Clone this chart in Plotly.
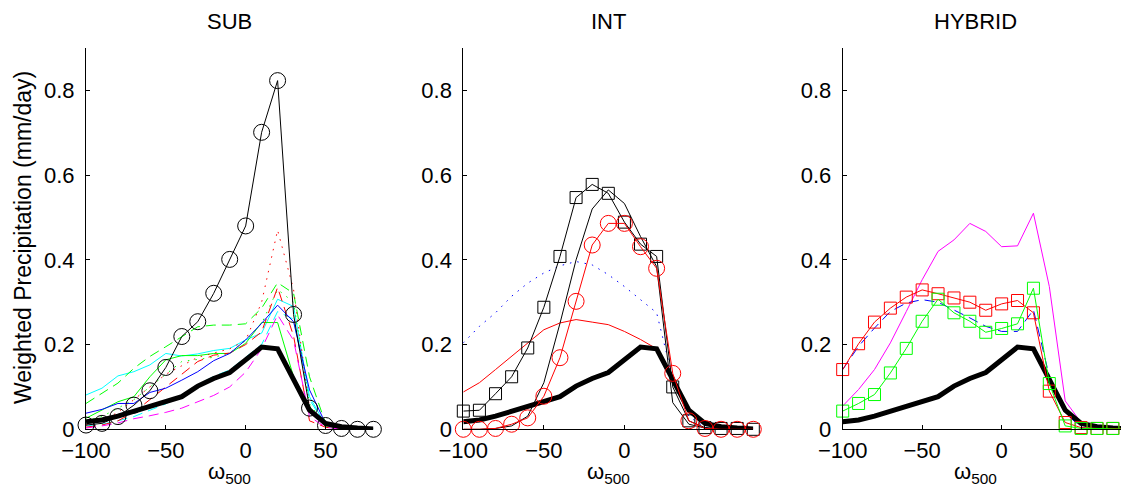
import plotly.graph_objects as go

# omega_500 bins
omega = [-100, -90, -80, -70, -60, -50, -40, -30, -20, -10, 0, 10, 20, 30, 40, 50, 60, 70, 80]

# reference (thick black) curve, same in every panel
obs = [0.018, 0.022, 0.031, 0.042, 0.053, 0.065, 0.077, 0.102, 0.120, 0.134, 0.164, 0.194, 0.190, 0.116, 0.045, 0.014, 0.006, 0.003, 0.001]

# ---- SUB panel ----
sub_black_circ = [0.010, 0.014, 0.030, 0.057, 0.091, 0.146, 0.219, 0.254, 0.321, 0.401, 0.480, 0.701, 0.823, 0.271, 0.050, 0.009, 0.002, 0.0, 0.0]
sub_cyan = [0.081, 0.097, 0.126, 0.136, 0.152, 0.179, 0.173, 0.178, 0.186, 0.191, 0.211, 0.227, 0.307, 0.290, 0.077, 0.010, 0.005, 0.003, 0.0]
sub_cyan_dash = [0.008, 0.012, 0.020, 0.030, 0.045, 0.060, 0.080, 0.105, 0.125, 0.140, 0.170, 0.200, 0.278, 0.260, 0.070, 0.010, 0.002, 0.0, 0.0]
sub_green = [0.026, 0.046, 0.065, 0.077, 0.124, 0.164, 0.174, 0.174, 0.179, 0.179, 0.203, 0.252, 0.252, 0.124, 0.054, 0.006, 0.0, 0.0, 0.0]
sub_green_dash = [0.061, 0.085, 0.109, 0.144, 0.172, 0.195, 0.219, 0.242, 0.246, 0.246, 0.249, 0.286, 0.346, 0.321, 0.124, 0.014, 0.003, 0.0, 0.0]
sub_green_dot = [0.020, 0.030, 0.050, 0.070, 0.100, 0.130, 0.160, 0.165, 0.170, 0.180, 0.210, 0.250, 0.330, 0.300, 0.060, 0.010, 0.0, 0.0, 0.0]
sub_blue = [0.038, 0.047, 0.061, 0.061, 0.087, 0.097, 0.116, 0.136, 0.162, 0.179, 0.211, 0.250, 0.293, 0.254, 0.093, 0.014, 0.003, 0.0, 0.0]
sub_red_dash = [0.005, 0.010, 0.020, 0.040, 0.070, 0.100, 0.130, 0.160, 0.175, 0.180, 0.200, 0.230, 0.335, 0.220, 0.020, 0.005, 0.0, 0.0, 0.0]
sub_red_dot = [0.010, 0.020, 0.040, 0.070, 0.100, 0.130, 0.150, 0.170, 0.180, 0.190, 0.210, 0.300, 0.470, 0.330, 0.050, 0.010, 0.0, 0.0, 0.0]
sub_magenta_dash = [0.003, 0.008, 0.015, 0.025, 0.032, 0.040, 0.050, 0.065, 0.080, 0.100, 0.135, 0.190, 0.270, 0.210, 0.030, 0.005, 0.0, 0.0, 0.0]

# ---- INT panel ----
int_black_sq = [0.043, 0.045, 0.084, 0.124, 0.192, 0.288, 0.408, 0.547, 0.578, 0.557, 0.489, 0.437, 0.408, 0.100, 0.020, 0.004, 0.002, 0.002, 0.0]
int_black = [0.0, 0.0, 0.002, 0.008, 0.031, 0.110, 0.250, 0.400, 0.520, 0.565, 0.533, 0.455, 0.384, 0.063, 0.012, 0.003, 0.0, 0.0, 0.0]
int_red_circ = [0.0, 0.0, 0.002, 0.012, 0.027, 0.078, 0.169, 0.302, 0.435, 0.486, 0.486, 0.431, 0.380, 0.132, 0.020, 0.002, 0.0, 0.0, 0.0]
int_red = [0.088, 0.110, 0.141, 0.173, 0.204, 0.235, 0.251, 0.259, 0.253, 0.247, 0.231, 0.212, 0.190, 0.118, 0.051, 0.012, 0.003, 0.0, 0.0]
int_blue_dot = [0.204, 0.243, 0.275, 0.314, 0.345, 0.369, 0.386, 0.396, 0.388, 0.365, 0.337, 0.306, 0.275, 0.120, 0.030, 0.005, 0.0, 0.0, 0.0]

# ---- HYBRID panel ----
hyb_red_sq = [0.141, 0.202, 0.253, 0.286, 0.312, 0.329, 0.320, 0.310, 0.300, 0.281, 0.296, 0.304, 0.275, 0.090, 0.016, 0.004, 0.002, 0.002, 0.0]
hyb_green_sq = [0.043, 0.061, 0.082, 0.133, 0.191, 0.255, 0.307, 0.275, 0.255, 0.229, 0.238, 0.249, 0.333, 0.108, 0.008, 0.002, 0.002, 0.002, 0.0]
hyb_magenta = [0.055, 0.094, 0.141, 0.204, 0.278, 0.353, 0.420, 0.447, 0.486, 0.467, 0.431, 0.433, 0.510, 0.337, 0.067, 0.016, 0.004, 0.0, 0.0]
hyb_blue_dash = [0.141, 0.196, 0.239, 0.278, 0.298, 0.306, 0.300, 0.282, 0.263, 0.243, 0.231, 0.231, 0.282, 0.125, 0.039, 0.004, 0.0, 0.0, 0.0]

titles = ["SUB", "INT", "HYBRID"]
x_ticks = [-100, -50, 0, 50]
y_ticks = [0, 0.2, 0.4, 0.6, 0.8]
y_ticklabels = ["0", "0.2", "0.4", "0.6", "0.8"]

FONT = "Liberation Sans, Arial, Helvetica, sans-serif"
W, H = 1121, 496
DASH = "10px,6px"
DOT = "1.5px,6px"

fig = go.Figure()


def line(xa, ya, y, color, dash="solid", width=1.0, symbol=None, msize=0):
    kw = dict(x=omega, y=y, xaxis=xa, yaxis=ya, showlegend=False, hoverinfo="skip",
              line=dict(color=color, width=width, dash=dash), cliponaxis=False)
    if symbol:
        kw["mode"] = "lines+markers"
        kw["marker"] = dict(symbol=symbol, size=msize, color=color, line=dict(width=1, color=color))
    else:
        kw["mode"] = "lines"
    fig.add_trace(go.Scatter(**kw))


# SUB
line("x", "y", sub_cyan, "#00FFFF")
line("x", "y", sub_cyan_dash, "#00FFFF", dash=DASH)
line("x", "y", sub_green, "#00FF00")
line("x", "y", sub_green_dash, "#00FF00", dash=DASH)
line("x", "y", sub_green_dot, "#00FF00", dash=DOT)
line("x", "y", sub_red_dash, "#FF0000", dash=DASH)
line("x", "y", sub_red_dot, "#FF0000", dash=DOT)
line("x", "y", sub_magenta_dash, "#FF00FF", dash=DASH)
line("x", "y", sub_blue, "#0000FF")
line("x", "y", obs, "#000000", width=5)
line("x", "y", sub_black_circ, "#000000", symbol="circle-open", msize=16)

# INT
line("x2", "y2", int_blue_dot, "#0000FF", dash=DOT)
line("x2", "y2", int_red, "#FF0000")
line("x2", "y2", int_black, "#000000")
line("x2", "y2", obs, "#000000", width=5)
line("x2", "y2", int_black_sq, "#000000", symbol="square-open", msize=12)
line("x2", "y2", int_red_circ, "#FF0000", symbol="circle-open", msize=16)

# HYBRID
line("x3", "y3", hyb_magenta, "#FF00FF")
line("x3", "y3", hyb_blue_dash, "#0000FF", dash=DASH)
line("x3", "y3", obs, "#000000", width=5)
line("x3", "y3", hyb_red_sq, "#FF0000", symbol="square-open", msize=12)
line("x3", "y3", hyb_green_sq, "#00FF00", symbol="square-open", msize=12)

# layout geometry (pixels)
x_dom = [(86, 373.4), (463.3, 753.3), (842.7, 1121)]
x_rng = [(-100, 80), (-100, 80), (-100, 75.1)]
title_cx = [229.5, 608, 975]
y_top, y_bot = 48, 429.3
ydom = [1 - y_bot / H, 1 - y_top / H]

layout = dict(width=W, height=H, margin=dict(l=0, r=0, t=0, b=0, pad=0, autoexpand=False),
              paper_bgcolor="white", plot_bgcolor="white",
              font=dict(family=FONT, size=22, color="black"))
annotations = []
for i in range(3):
    sfx = "" if i == 0 else str(i + 1)
    d0, d1 = x_dom[i]
    layout["xaxis" + sfx] = dict(
        domain=[d0 / W, min(d1 / W, 1.0)], range=list(x_rng[i]), anchor="y" + sfx,
        tickvals=x_ticks, ticks="inside", ticklen=4, tickwidth=1, tickcolor="black",
        showline=True, linecolor="black", linewidth=1, mirror=False, automargin=False,
        showgrid=False, zeroline=False, tickfont=dict(size=22, family=FONT),
        ticklabelstandoff=1)
    layout["yaxis" + sfx] = dict(
        domain=ydom, range=[0, 0.9], anchor="x" + sfx, automargin=False,
        tickvals=y_ticks, ticktext=y_ticklabels, ticks="inside", ticklen=4, tickwidth=1,
        tickcolor="black", showline=True, linecolor="black", linewidth=1, mirror=False,
        showgrid=False, zeroline=False, tickfont=dict(size=22, family=FONT),
        ticklabelstandoff=6)
    cx = title_cx[i]
    annotations.append(dict(text=titles[i], x=cx / W, y=1 - 22 / H, xref="paper", yref="paper",
                            xanchor="center", yanchor="middle", showarrow=False,
                            font=dict(size=22, family=FONT)))
    annotations.append(dict(text="\u03c9<sub>500</sub>", x=cx / W, y=1 - 473 / H, xref="paper",
                            yref="paper", xanchor="center", yanchor="middle", showarrow=False,
                            font=dict(size=22, family=FONT)))

annotations.append(dict(text="Weighted Precipitation (mm/day)", x=23 / W, y=1 - 238 / H,
                        xref="paper", yref="paper", xanchor="center", yanchor="middle",
                        textangle=-90, showarrow=False, font=dict(size=23, family=FONT)))
layout["annotations"] = annotations
fig.update_layout(**layout)

fig.write_html("out.html")
